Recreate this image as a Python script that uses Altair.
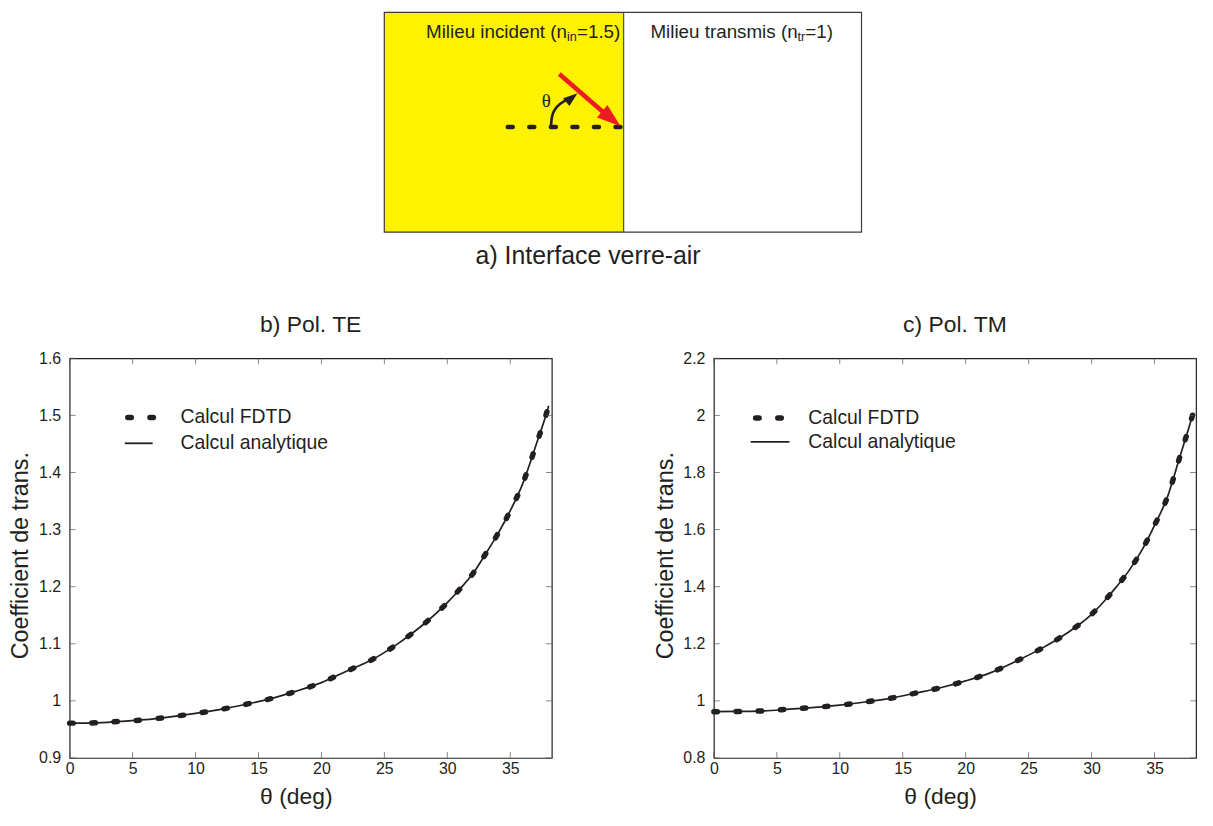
import altair as alt
import pandas as pd

FONT = "Liberation Sans"
INK = "#231f20"

# ---------------- data ----------------
theta = [0, 2, 4, 6, 8, 10, 12, 14, 16, 18, 20, 22, 24, 26, 28, 30, 31, 32, 33, 34, 35, 36, 37, 38, 38.05]
te_fdtd = [0.961, 0.9615, 0.964, 0.967, 0.972, 0.978, 0.985, 0.994, 1.004, 1.017, 1.032, 1.052, 1.072,
           1.099, 1.132, 1.172, 1.196, 1.222, 1.256, 1.292, 1.333, 1.381, 1.445, 1.513, 1.517]
te_analytic = [0.961, 0.9615, 0.964, 0.967, 0.972, 0.978, 0.985, 0.994, 1.004, 1.017, 1.032, 1.052, 1.072,
               1.099, 1.132, 1.172, 1.196, 1.222, 1.256, 1.292, 1.333, 1.381, 1.445, 1.513, 1.517]
tm_fdtd = [0.962, 0.963, 0.965, 0.971, 0.977, 0.985, 0.996, 1.009, 1.027, 1.046, 1.070, 1.099, 1.139,
           1.183, 1.236, 1.303, 1.349, 1.401, 1.458, 1.528, 1.615, 1.711, 1.853, 1.998, 2.006]
tm_analytic = [0.962, 0.963, 0.965, 0.971, 0.977, 0.985, 0.996, 1.009, 1.027, 1.046, 1.070, 1.099, 1.139,
               1.183, 1.236, 1.303, 1.349, 1.401, 1.458, 1.528, 1.615, 1.711, 1.853, 1.998, 2.006]

x_ticks = [0, 5, 10, 15, 20, 25, 30, 35]
te_y_ticks = [0.9, 1.0, 1.1, 1.2, 1.3, 1.4, 1.5, 1.6]
tm_y_ticks = [0.8, 1.0, 1.2, 1.4, 1.6, 1.8, 2.0, 2.2]
legend_labels = ["Calcul FDTD", "Calcul analytique"]

# ---------------- diagram (panel a) ----------------
TOP_W, TOP_H = 1000, 268
BOX_X, BOX_Y = 385, 2        # where the box sits inside the diagram panel
ORIGIN_X, ORIGIN_Y = 68.5, 8  # page position of the diagram's plot origin
xs_d = alt.Scale(domain=[ORIGIN_X - BOX_X, ORIGIN_X + TOP_W - BOX_X], nice=False, zero=False)
ys_d = alt.Scale(domain=[ORIGIN_Y - BOX_Y, ORIGIN_Y + TOP_H - BOX_Y], nice=False, zero=False, reverse=True)


def dx(f="x"):
    return alt.X(f"{f}:Q", scale=xs_d, axis=None)


def dy(f="y"):
    return alt.Y(f"{f}:Q", scale=ys_d, axis=None)


media = pd.DataFrame({"x": [0, 240.7], "x2": [240.7, 480], "y": [6, 6], "y2": [227, 227],
                      "fill": ["#fff200", "#ffffff"]})
media_l = alt.Chart(media).mark_rect().encode(
    x=dx(), x2="x2:Q", y=dy(), y2="y2:Q", color=alt.Color("fill:N", scale=None))
frame_l = alt.Chart(pd.DataFrame({"x": [0], "x2": [480], "y": [6], "y2": [227]})).mark_rect(
    filled=False, stroke="#3a3a3a", strokeWidth=1.2).encode(x=dx(), x2="x2:Q", y=dy(), y2="y2:Q")
divider_l = alt.Chart(pd.DataFrame({"x": [240.7], "y": [6], "y2": [227]})).mark_rule(
    color="#55553a", strokeWidth=1.3).encode(x=dx(), y=dy(), y2="y2:Q")
normal_l = alt.Chart(pd.DataFrame({"x": [124.2], "x2": [238], "y": [121.3]})).mark_rule(
    color=INK, strokeWidth=4.5, strokeDash=[5, 16.67], strokeCap="round").encode(x=dx(), x2="x2:Q", y=dy())
ray_l = alt.Chart(pd.DataFrame({"x": [176], "x2": [222], "y": [68], "y2": [108]})).mark_rule(
    color="#ed1c24", strokeWidth=4.5).encode(x=dx(), x2="x2:Q", y=dy(), y2="y2:Q")
ray_head = alt.Chart(pd.DataFrame({"x": [228.4], "y": [113.1]})).mark_point(
    shape="M0,-1L0.69,1L-0.69,1Z", filled=True, fill="#ed1c24", opacity=1, strokeWidth=0,
    size=571, angle=129.4).encode(x=dx(), y=dy())
arc = pd.DataFrame({"x": [167.7, 168.3, 171.7, 176.7, 181.7, 184.5],
                    "y": [121.0, 109.7, 103.0, 98.0, 94.7, 93.3], "o": [0, 1, 2, 3, 4, 5]})
arc_l = alt.Chart(arc).mark_line(color=INK, strokeWidth=2.6, interpolate="basis").encode(
    x=dx(), y=dy(), order="o:Q")
arc_head = alt.Chart(pd.DataFrame({"x": [188.7], "y": [91.8]})).mark_point(
    shape="M0,-1L0.7,1L-0.7,1Z", filled=True, fill=INK, opacity=1, strokeWidth=0,
    size=210, angle=51.5).encode(x=dx(), y=dy())
theta_l = alt.Chart(pd.DataFrame({"x": [163], "y": [95], "t": ["θ"]})).mark_text(
    font="Liberation Serif", fontSize=19, color=INK).encode(x=dx(), y=dy(), text="t:N")

labels = pd.DataFrame({
    "x": [42, 183.8, 193.8, 267.7, 415.7, 423.5],
    "y": [26, 31, 26, 26, 31, 26],
    "t": ["Milieu incident (n", "in", "=1.5)", "Milieu transmis (n", "tr", "=1)"],
    "s": [18.9, 12.8, 18.9, 18.9, 12.8, 18.9]})
labels_l = alt.Chart(labels).mark_text(font=FONT, color=INK, align="left", baseline="middle").encode(
    x=dx(), y=dy(), text="t:N", size=alt.Size("s:Q", scale=None))
caption_l = alt.Chart(pd.DataFrame({"x": [205], "y": [251], "t": ["a) Interface verre-air"]})).mark_text(
    font=FONT, fontSize=25, color=INK, baseline="middle").encode(x=dx(), y=dy(), text="t:N")

top = alt.layer(media_l, frame_l, divider_l, normal_l, ray_l, ray_head, arc_l, arc_head,
                theta_l, labels_l, caption_l).properties(
    width=TOP_W, height=TOP_H, view=alt.ViewBackground(stroke="transparent"))

PW, PH = 485, 402


# ---------------- panels b and c ----------------
def panel(title, fdtd, analytic, y_domain, y_ticks, leg):
    width, height = PW, PH
    df = pd.DataFrame({"theta": theta, "fdtd": fdtd, "analytique": analytic})
    xs = alt.Scale(domain=[0, 38.3], nice=False, zero=False)
    ys = alt.Scale(domain=y_domain, nice=False, zero=False)
    xaxis = alt.Axis(values=x_ticks, title="θ (deg)", titleFontSize=23, titleFontWeight="normal",
                     titleColor=INK, titleFont=FONT, titlePadding=9, labelFontSize=16, labelColor=INK,
                     labelFont=FONT, labelPadding=3, labelFlush=False, ticks=False, tickSize=0,
                     domain=False, grid=False, titleX=PW / 2 - 15)
    yaxis = alt.Axis(values=y_ticks, format=".2~f", title="Coefficient de trans.", titleFontSize=23.5,
                     titleFontWeight="normal", titleColor=INK, titleFont=FONT, titlePadding=5,
                     labelFontSize=16, labelColor=INK, labelFont=FONT, labelPadding=9, ticks=False,
                     tickSize=0, domain=False, grid=False, minExtent=32, maxExtent=32, titleY=198)

    def X(f):
        return alt.X(f"{f}:Q", scale=xs, axis=xaxis, title="θ (deg)")

    def Y(f):
        return alt.Y(f"{f}:Q", scale=ys, axis=yaxis, title="Coefficient de trans.")

    base = alt.Chart(df)
    analytic_l = base.mark_line(color=INK, strokeWidth=1.7, interpolate="monotone").encode(
        x=X("theta"), y=Y("analytique"))
    fdtd_l = base.mark_line(color=INK, strokeWidth=5.5, strokeDash=[3.5, 18.8], strokeCap="round",
                            interpolate="monotone").encode(x=X("theta"), y=Y("fdtd"))

    xt = alt.Chart(pd.DataFrame({"t": x_ticks}))
    yt = alt.Chart(pd.DataFrame({"v": y_ticks}))
    tick_style = dict(color="#555555", thickness=1, size=6)
    xt_bot = xt.mark_tick(orient="vertical", **tick_style).encode(x=X("t"), y=alt.value(height - 3))
    xt_top = xt.mark_tick(orient="vertical", **tick_style).encode(x=X("t"), y=alt.value(3))
    yt_left = yt.mark_tick(orient="horizontal", **tick_style).encode(y=Y("v"), x=alt.value(3))
    yt_right = yt.mark_tick(orient="horizontal", **tick_style).encode(y=Y("v"), x=alt.value(width - 3))

    l0 = alt.Chart(pd.DataFrame({"label": [legend_labels[0]]}))
    l1 = alt.Chart(pd.DataFrame({"label": [legend_labels[1]]}))
    leg_dash = l0.mark_rule(color=INK, strokeWidth=5.5, strokeDash=[3.5, 18.8], strokeCap="round").encode(
        x=alt.value(leg["dash"][0]), x2=alt.value(leg["dash"][1]), y=alt.value(leg["y"][0]))
    leg_line = l1.mark_rule(color=INK, strokeWidth=1.8).encode(
        x=alt.value(leg["line"][0]), x2=alt.value(leg["line"][1]), y=alt.value(leg["y"][1]))
    leg_t0 = l0.mark_text(font=FONT, fontSize=19.5, color=INK, align="left", baseline="middle").encode(
        x=alt.value(leg["text"]), y=alt.value(leg["y"][0]), text="label:N")
    leg_t1 = l1.mark_text(font=FONT, fontSize=19.5, color=INK, align="left", baseline="middle").encode(
        x=alt.value(leg["text"]), y=alt.value(leg["y"][1]), text="label:N")

    return alt.layer(analytic_l, fdtd_l, xt_bot, xt_top, yt_left, yt_right,
                     leg_dash, leg_line, leg_t0, leg_t1).properties(
        width=width, height=height,
        title=alt.TitleParams(title, fontSize=23, font=FONT, fontWeight="normal", color=INK,
                              offset=13, anchor="middle"))


left = panel("b) Pol. TE", te_fdtd, te_analytic, [0.9, 1.6], te_y_ticks,
             {"dash": [58.5, 85], "line": [55.5, 83.5], "text": 111.5, "y": [59.5, 85.5]})
right = panel("c) Pol. TM", tm_fdtd, tm_analytic, [0.8, 2.2], tm_y_ticks,
              {"dash": [42, 69], "line": [37, 76], "text": 95, "y": [60, 84]})

bottom = alt.hconcat(left, right, spacing=92)
chart = alt.vconcat(top, bottom, spacing=34).properties(
    padding={"left": 0, "top": 0, "right": 0, "bottom": 0}
).configure(font=FONT).configure_view(stroke=INK, strokeWidth=1.2)

chart.save("out.html", embed_options={"renderer": "svg", "actions": False})
